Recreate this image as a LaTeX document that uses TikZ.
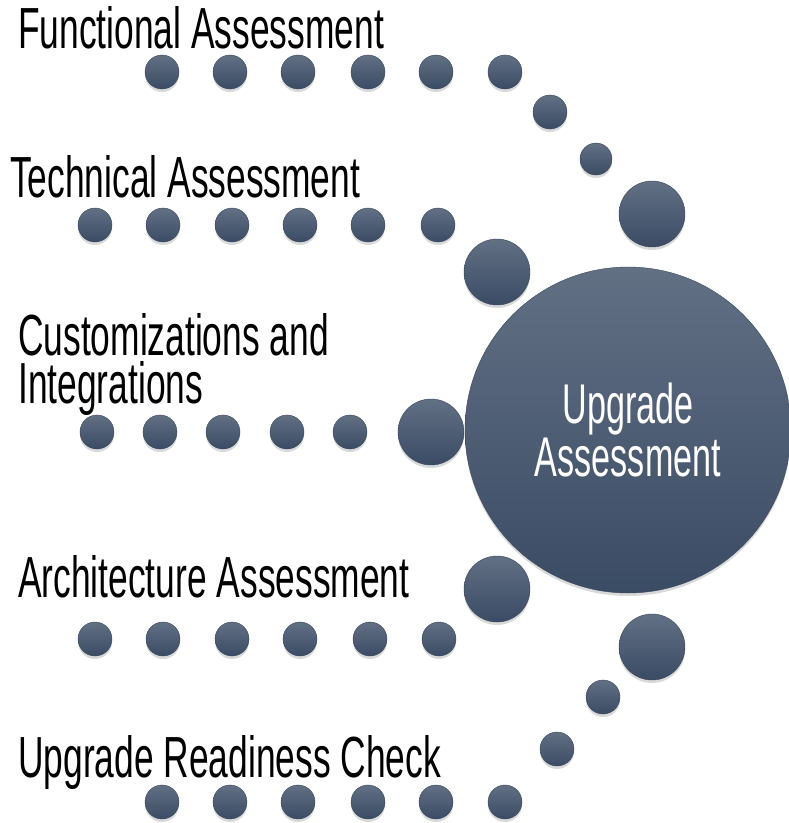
\documentclass[tikz,border=0pt]{standalone}
\usepackage{fontspec}
\newfontfamily\lblfont[FakeStretch=0.61]{Liberation Sans}
\definecolor{dottop}{RGB}{98, 112, 132}
\definecolor{dotbot}{RGB}{58, 75, 100}
\definecolor{dotline}{RGB}{55, 70, 92}
\usetikzlibrary{shapes, shadows, positioning}

\begin{document}
\begin{tikzpicture}[x=1pt, y=-1pt,
  dot/.style={circle, draw=dotline, line width=0.4pt, inner sep=0pt, top color=dottop, bottom color=dotbot,
    drop shadow={opacity=0.3, shadow xshift=0pt, shadow yshift=-3pt}},
  small/.style={dot, minimum size=34pt},
  large/.style={dot, minimum size=66pt},
  lbl/.style={anchor=base west, inner sep=0pt, align=left, font=\lblfont\fontsize{58}{48}\selectfont}
]
  \useasboundingbox (0,0) rectangle (789,823);

  % hub
  \node[dot, minimum size=326pt, text=white, align=center, font=\lblfont\fontsize{56}{53}\selectfont] (hub) at (628, 430) {Upgrade\\Assessment};

  % functional
  \node[lbl] (funclbl) at (18, 48) {Functional Assessment};
  \node[small] (f1) at (162, 72) {};
  \node[small] (f2) at (230, 72) {};
  \node[small] (f3) at (298, 72) {};
  \node[small] (f4) at (368, 72) {};
  \node[small] (f5) at (436, 72) {};
  \node[small] (f6) at (505, 72) {};
  \node[small] (f7) at (550, 112) {};
  \node[small, minimum size=32pt] (f8) at (596, 159) {};
  \node[large] (f9) at (652, 214) {};

  % technical
  \node[lbl] (techlbl) at (10, 197) {Technical Assessment};
  \node[small] (t1) at (95, 225) {};
  \node[small] (t2) at (163, 225) {};
  \node[small] (t3) at (232, 225) {};
  \node[small] (t4) at (300, 225) {};
  \node[small] (t5) at (368, 225) {};
  \node[small] (t6) at (438, 225) {};
  \node[large] (t7) at (497, 272) {};

  % customizations
  \node[lbl] (custlbl) at (18, 403) {Customizations and\\Integrations};
  \node[small] (c1) at (97, 432) {};
  \node[small] (c2) at (160, 432) {};
  \node[small] (c3) at (223, 432) {};
  \node[small] (c4) at (287, 432) {};
  \node[small] (c5) at (350, 432) {};
  \node[large] (c6) at (431, 432) {};

  % architecture
  \node[lbl] (archlbl) at (18, 597) {Architecture Assessment};
  \node[small] (a1) at (95, 639) {};
  \node[small] (a2) at (163, 639) {};
  \node[small] (a3) at (232, 639) {};
  \node[small] (a4) at (300, 639) {};
  \node[small] (a5) at (370, 639) {};
  \node[small] (a6) at (439, 639) {};
  \node[large] (a7) at (497, 589) {};

  % readiness
  \node[lbl] (readlbl) at (18, 777) {Upgrade Readiness Check};
  \node[small] (r1) at (162, 802) {};
  \node[small] (r2) at (230, 802) {};
  \node[small] (r3) at (298, 802) {};
  \node[small] (r4) at (368, 802) {};
  \node[small] (r5) at (436, 802) {};
  \node[small] (r6) at (505, 802) {};
  \node[small] (r7) at (557, 749) {};
  \node[small] (r8) at (603, 697) {};
  \node[large] (r9) at (652, 647) {};
\end{tikzpicture}
\end{document}
